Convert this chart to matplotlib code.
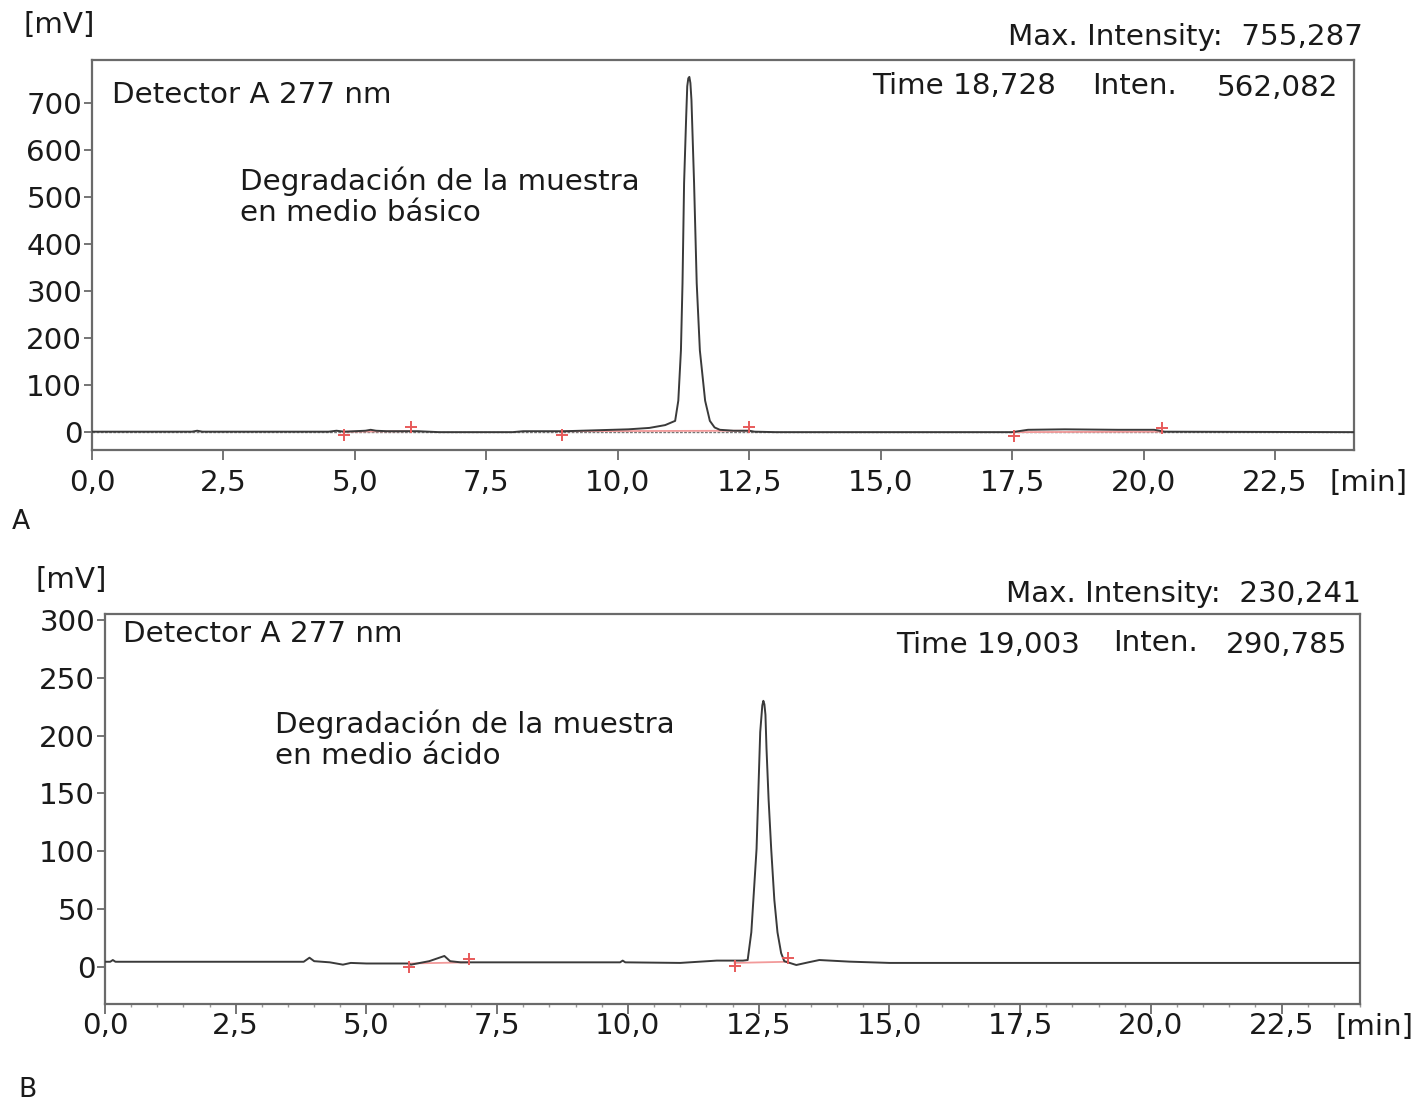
import matplotlib
matplotlib.use("Agg")
import matplotlib.pyplot as plt
from matplotlib.ticker import FixedLocator, FixedFormatter, MultipleLocator

plt.rcParams['font.family'] = ['DejaVu Sans']

W, H = 1426, 1105

# ---------------- data ----------------
# Panel A: degradation in basic medium
a_time = [0.0, 1.9, 2.0, 2.1, 4.5, 4.65, 4.8, 5.0, 5.2, 5.3, 5.4, 5.6, 6.2, 6.6, 7.0, 8.0, 8.2, 9.0,
          9.6, 10.2, 10.6, 10.9, 11.09, 11.15, 11.20, 11.23, 11.26, 11.30, 11.32, 11.34, 11.36, 11.38,
          11.40, 11.45, 11.50, 11.56, 11.66, 11.75, 11.84, 11.94, 12.2, 12.5, 12.6, 13.0, 17.5, 17.8,
          18.5, 19.5, 20.2, 20.4, 24.0]
a_mv = [0, 0, 2, 0, 0, 2, 0, 1, 2, 4, 2, 1, 1, -1, -1, -1, 1, 1,
        3, 5, 8, 14, 23, 66, 173, 316, 529, 671, 735, 752, 755, 742,
        706, 529, 316, 173, 66, 23, 9, 4, 2, 2, 0, -1, -1, 4,
        5, 4, 4, 0, -1]

a_start_t = [4.79, 8.93, 17.53]
a_start_v = [0, 1, -1]
a_end_t = [6.06, 12.50, 20.34]
a_end_v = [1, 2, 0]

# Panel B: degradation in acid medium
b_time = [0.0, 0.1, 0.15, 0.2, 3.8, 3.91, 4.0, 4.3, 4.55, 4.7, 5.0, 5.8, 5.85, 6.2, 6.49, 6.6, 6.8,
          7.0, 9.85, 9.9, 9.95, 11.0, 11.7, 12.2, 12.29, 12.36, 12.42, 12.46, 12.50, 12.53,
          12.57, 12.59, 12.61, 12.63, 12.65, 12.69, 12.74, 12.80, 12.86, 12.93, 12.99, 13.22, 13.45,
          13.66, 14.24, 15.0, 24.0]
b_mv = [4.5, 4.5, 6, 4.5, 4.5, 8, 5, 4, 2, 3.5, 3, 3, 2, 5, 9.5, 5, 4,
        4, 4, 5.5, 4, 3.5, 5.5, 5.5, 6, 30, 73, 102, 160, 203,
        226, 230, 227, 218, 189, 145, 102, 58, 30, 12, 5, 1.7, 4,
        6, 4.6, 3.5, 3.5]

b_start_t = [5.82, 12.04]
b_start_v = [3, 3.5]
b_end_t = [6.96, 13.06]
b_end_v = [4, 4.5]

x_ticks = [0.0, 2.5, 5.0, 7.5, 10.0, 12.5, 15.0, 17.5, 20.0, 22.5]
x_labels = ["0,0", "2,5", "5,0", "7,5", "10,0", "12,5", "15,0", "17,5", "20,0", "22,5"]
a_yticks = [0, 100, 200, 300, 400, 500, 600, 700]
b_yticks = [0, 50, 100, 150, 200, 250, 300]

a_texts = dict(maxint="Max. Intensity:  755,287", time="Time 18,728", inten="Inten.", ival="562,082",
               title="Degradación de la muestra\nen medio básico")
b_texts = dict(maxint="Max. Intensity:  230,241", time="Time 19,003", inten="Inten.", ival="290,785",
               title="Degradación de la muestra\nen medio ácido")

# ---------------- drawing ----------------
fig = plt.figure(figsize=(W / 100, H / 100), dpi=100)
fig.patch.set_facecolor('white')


def fx(x):
    return x / W


def fy(y):
    return 1 - y / H


def box(l, t, r, b):
    return [fx(l), fy(b), (r - l) / W, (b - t) / H]


SPINE = '#6a6a6a'
TXT = '#1a1a1a'
FS = 21.2


def style(ax, ylim, yticks, minor, xpad):
    ax.set_xlim(0, 24)
    ax.set_ylim(*ylim)
    for s in ax.spines.values():
        s.set_color(SPINE)
        s.set_linewidth(1.6)
    ax.xaxis.set_major_locator(FixedLocator(x_ticks))
    ax.xaxis.set_major_formatter(FixedFormatter(x_labels))
    ax.set_yticks(yticks)
    ax.set_yticklabels([str(v) for v in yticks])
    ax.tick_params(axis='x', direction='out', length=7, width=1.3, color=SPINE,
                   labelsize=FS, labelcolor=TXT, pad=xpad)
    ax.tick_params(axis='y', direction='out', length=6, width=1.3, color=SPINE,
                   labelsize=FS, labelcolor=TXT, pad=1)
    if minor:
        ax.xaxis.set_minor_locator(MultipleLocator(0.5))
        ax.tick_params(axis='x', which='minor', direction='out', length=2.5, width=1.0, color='#999999')


def draw(ax, t, v, st, sv, et, ev, off):
    for x0, y0, x1, y1 in zip(st, sv, et, ev):
        ax.plot([x0, x1], [y0, y1], color='#f29a9a', lw=1.3, zorder=2)
    ax.plot(t, v, color='#3a3a3a', lw=1.4, zorder=3)
    ax.plot(st, [y - off for y in sv], ls='none', marker='+', ms=9, mew=1.4, color='#e85a5a', zorder=4)
    ax.plot(et, [y + off for y in ev], ls='none', marker='+', ms=9, mew=1.4, color='#e85a5a', zorder=4)


# Panel A
axA = fig.add_axes(box(92, 60, 1354, 450))
style(axA, (-39, 791), a_yticks, False, 7)
axA.axhline(0, color='#777777', lw=1.0, ls=(0, (2, 1)), zorder=1)
draw(axA, a_time, a_mv, a_start_t, a_start_v, a_end_t, a_end_v, 8)

fig.text(fx(24), fy(25), "[mV]", fontsize=FS, color=TXT, va='center', ha='left')
fig.text(fx(1363), fy(37), a_texts['maxint'], fontsize=FS, color=TXT, va='center', ha='right')
fig.text(fx(1056), fy(86), a_texts['time'], fontsize=FS, color=TXT, va='center', ha='right')
fig.text(fx(1092), fy(86), a_texts['inten'], fontsize=FS, color=TXT, va='center', ha='left')
fig.text(fx(1338), fy(88), a_texts['ival'], fontsize=FS, color=TXT, va='center', ha='right')
fig.text(fx(112), fy(95), "Detector A 277 nm", fontsize=FS, color=TXT, va='center', ha='left')
fig.text(fx(240), fy(197), a_texts['title'], fontsize=FS, color=TXT, va='center', ha='left',
         linespacing=1.12)
fig.text(fx(1330), fy(483), "[min]", fontsize=FS, color=TXT, va='center', ha='left')
fig.text(fx(12), fy(522), "A", fontsize=FS - 2, color=TXT, va='center', ha='left')

# Panel B
axB = fig.add_axes(box(105, 614, 1360, 1004))
style(axB, (-32, 305), b_yticks, True, -1)
draw(axB, b_time, b_mv, b_start_t, b_start_v, b_end_t, b_end_v, 3)

fig.text(fx(35), fy(580), "[mV]", fontsize=FS, color=TXT, va='center', ha='left')
fig.text(fx(1361), fy(594), b_texts['maxint'], fontsize=FS, color=TXT, va='center', ha='right')
fig.text(fx(1080), fy(645), b_texts['time'], fontsize=FS, color=TXT, va='center', ha='right')
fig.text(fx(1113), fy(643), b_texts['inten'], fontsize=FS, color=TXT, va='center', ha='left')
fig.text(fx(1347), fy(645), b_texts['ival'], fontsize=FS, color=TXT, va='center', ha='right')
fig.text(fx(123), fy(634), "Detector A 277 nm", fontsize=FS, color=TXT, va='center', ha='left')
fig.text(fx(275), fy(740), b_texts['title'], fontsize=FS, color=TXT, va='center', ha='left',
         linespacing=1.12)
fig.text(fx(1335), fy(1027), "[min]", fontsize=FS, color=TXT, va='center', ha='left')
fig.text(fx(18), fy(1090), "B", fontsize=FS - 2, color=TXT, va='center', ha='left')

fig.savefig("out.png", dpi=100, facecolor='white')
